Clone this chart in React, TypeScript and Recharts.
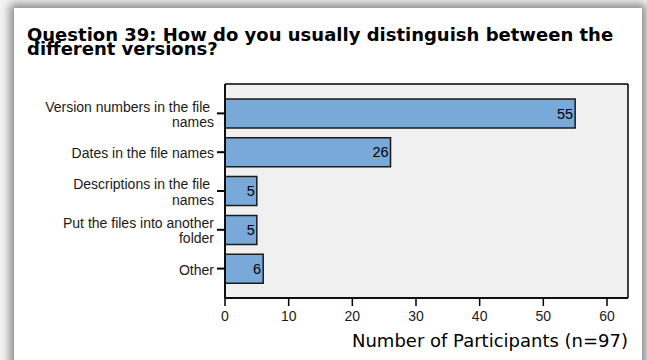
import { BarChart, Bar, XAxis, YAxis, CartesianGrid, LabelList, Label } from 'recharts'

const answers = [
    'Version numbers in the file \nnames',
    'Dates in the file names',
    'Descriptions in the file \nnames',
    'Put the files into another\nfolder',
    'Other',
]
const participants = [55, 26, 5, 5, 6]
const xTicks = [0, 10, 20, 30, 40, 50, 60]

const data = answers.map((answer, i) => ({ answer, count: participants[i] }))

const ARIAL = '"Liberation Sans", Arial, sans-serif'
const VERDANA = '"DejaVu Sans", Verdana, sans-serif'

function AnswerTick({ x, y, payload }: any) {
    const lines = String(payload.value).split('\n')
    const lh = 15.5
    return (
        <text x={x} y={y} textAnchor="end" fontFamily={ARIAL} fontSize={14} fill="#1a1a1a" style={{ whiteSpace: 'pre' }}>
            {lines.map((line, i) => (
                <tspan key={i} x={x} y={y + (i - (lines.length - 1) / 2) * lh + 1} dy="0.35em">{line}</tspan>
            ))}
        </text>
    )
}

export default function App() {
    return (
        <div style={{ position: 'absolute', left: 0, top: 0, width: 647, height: 360, overflow: 'hidden', background: '#f4f4f4' }}>
            <div style={{
                position: 'absolute', left: 14, top: 8, width: 628, height: 400,
                background: '#fff', boxShadow: '0 0 9px 4px rgba(0,0,0,0.45)',
            }} />
            <div style={{
                position: 'absolute', left: 27, top: 28, width: 610,
                fontFamily: VERDANA, fontWeight: 'bold',
                fontSize: 18, lineHeight: '13.5px', color: '#000',
            }}>
                Question 39: How do you usually distinguish between the different versions?
            </div>
            <div style={{ position: 'absolute', left: 0, top: 0 }}>
                <BarChart
                    width={647}
                    height={360}
                    data={data}
                    layout="vertical"
                    margin={{ top: 84, right: 19, bottom: 0, left: 0 }}
                >
                    <CartesianGrid
                        fill="#f0f0f0"
                        stroke="#000"
                        strokeWidth={1.5}
                        horizontalCoordinatesGenerator={({ offset }: any) => [offset.top, offset.top + offset.height]}
                        verticalCoordinatesGenerator={({ offset }: any) => [offset.left, offset.left + offset.width]}
                    />
                    <XAxis
                        type="number"
                        dataKey="count"
                        domain={[0, 63.3]}
                        ticks={xTicks}
                        height={62}
                        tickSize={8}
                        tickMargin={5}
                        axisLine={{ stroke: '#000', strokeWidth: 1.5 }}
                        tickLine={{ stroke: '#000', strokeWidth: 1.5 }}
                        tick={{ fill: '#1a1a1a', fontSize: 14, fontFamily: ARIAL }}
                        allowDataOverflow
                    >
                        <Label
                            content={({ viewBox }: any) => (
                                <text
                                    x={viewBox.x + viewBox.width}
                                    y={viewBox.y + 49}
                                    textAnchor="end"
                                    fill="#000"
                                    fontSize={18}
                                    fontFamily={VERDANA}
                                >
                                    Number of Participants (n=97)
                                </text>
                            )}
                        />
                    </XAxis>
                    <YAxis
                        type="category"
                        dataKey="answer"
                        width={225}
                        padding={{ top: 10, bottom: 10 }}
                        tickSize={8}
                        tickMargin={3}
                        axisLine={{ stroke: '#000', strokeWidth: 1.5 }}
                        tickLine={{ stroke: '#000', strokeWidth: 2 }}
                        tick={<AnswerTick />}
                        interval={0}
                    />
                    <Bar
                        dataKey="count"
                        barSize={29}
                        fill="#79a9d8"
                        stroke="#1a1a1a"
                        strokeWidth={1.5}
                        isAnimationActive={false}
                    >
                        <LabelList
                            dataKey="count"
                            position="insideRight"
                            offset={2}
                            fill="#000"
                            fontSize={14.5}
                            fontFamily={ARIAL}
                        />
                    </Bar>
                </BarChart>
            </div>
        </div>
    )
}
